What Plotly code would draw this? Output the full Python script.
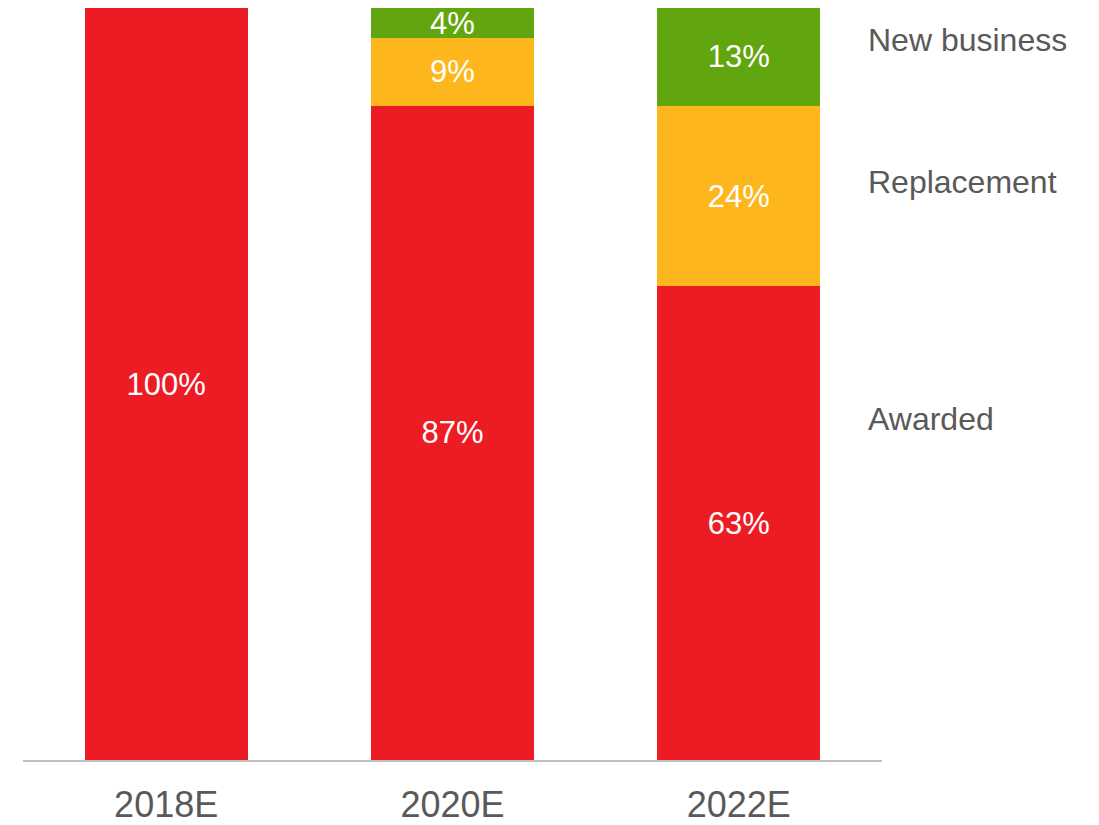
import plotly.graph_objects as go

categories = ["2018E", "2020E", "2022E"]
awarded = [100, 87, 63]
replacement = [None, 9, 24]
new_business = [None, 4, 13]
series_names = ["Awarded", "Replacement", "New business"]
colors = ["#ED1C24", "#FDB71C", "#62A60F"]

FONT = "Liberation Sans, Arial, sans-serif"

fig = go.Figure()
for name, vals, col in zip(series_names, [awarded, replacement, new_business], colors):
    fig.add_trace(go.Bar(
        x=categories, y=vals, name=name, marker=dict(color=col, line=dict(width=0)),
        text=[f"{v}%" if v is not None else "" for v in vals],
        textposition="inside", insidetextanchor="middle", constraintext="none",
        textfont=dict(color="white", size=31, family=FONT),
        hoverinfo="skip",
    ))

# side labels
label_y = {"New business": 0.9576, "Replacement": 0.768, "Awarded": 0.4536}
for name in series_names:
    fig.add_annotation(
        text=name, xref="paper", yref="paper", x=0.9814, y=label_y[name],
        xanchor="left", yanchor="middle", showarrow=False,
        font=dict(size=32, color="#595959", family=FONT),
    )

fig.update_layout(
    barmode="stack", bargap=0.43, showlegend=False,
    width=1091, height=817,
    margin=dict(l=15, r=217, t=0, b=57),
    paper_bgcolor="white", plot_bgcolor="white",
    font=dict(family=FONT, color="#595959"),
)
fig.update_xaxes(showline=True, linecolor="#BFBFBF", linewidth=1.5, ticks="",
                 ticklabelstandoff=12,
                 tickfont=dict(size=36, color="#595959", family=FONT), showgrid=False)
fig.update_yaxes(range=[0, 100], visible=False, showgrid=False)

fig.write_html("out.html")
